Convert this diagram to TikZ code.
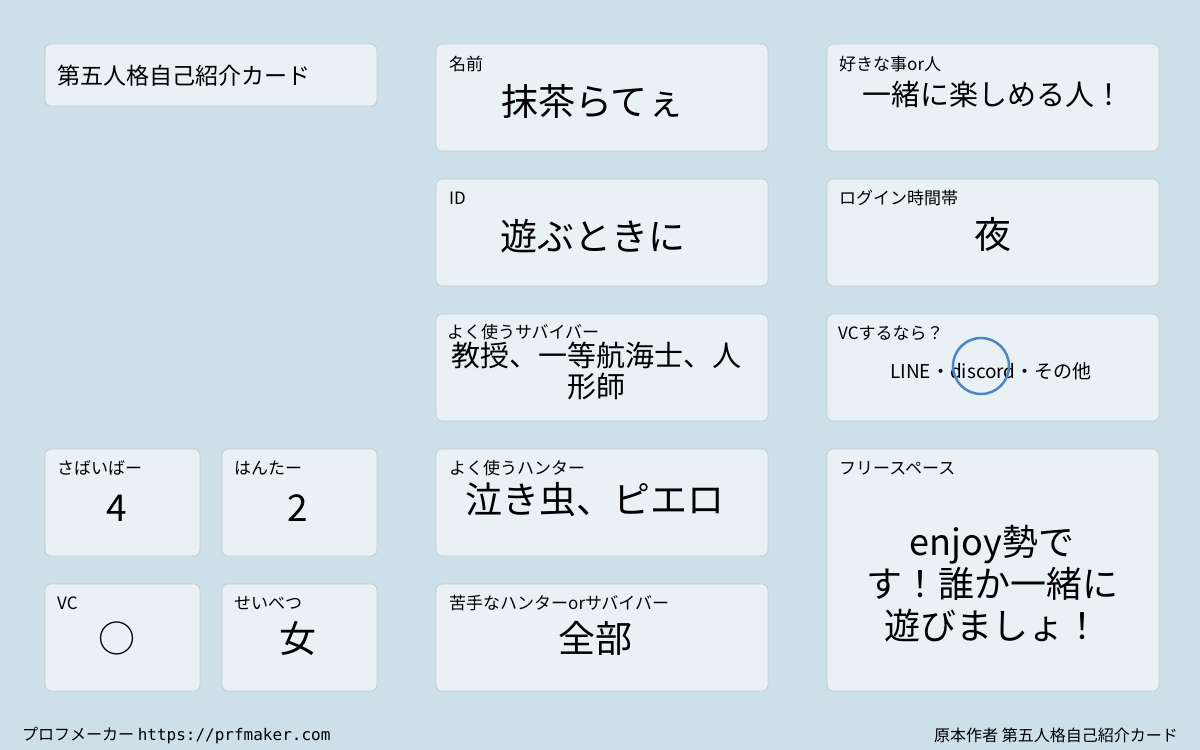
\documentclass[tikz,border=0pt]{standalone}
\usepackage{fontspec}
\setmainfont{Noto Sans CJK JP}
\newfontfamily\monof{DejaVu Sans Mono}
\definecolor{bgc}{HTML}{CDDFE9}
\definecolor{boxc}{HTML}{E9F1F5}
\definecolor{edgec}{HTML}{BFCBD2}
\definecolor{circc}{HTML}{4A86C8}
\tikzset{
 card/.style={draw=edgec,fill=boxc,rounded corners=6pt,line width=0.8pt},
 lbl/.style={anchor=west,font=\fontsize{17}{17}\selectfont,inner sep=0pt},
 big/.style={font=\fontsize{37}{40}\selectfont,inner sep=0pt,align=center},
 mid/.style={font=\fontsize{29}{31}\selectfont,inner sep=0pt,align=center},
 foot/.style={font=\fontsize{16}{16}\selectfont,inner sep=0pt}
}
\begin{document}
\begin{tikzpicture}[x=1pt,y=-1pt]
\fill[bgc] (0,0) rectangle (1200,750);
\useasboundingbox (0,0) rectangle (1200,750);
% cards
\draw[card] (45,44) rectangle (377,106);
\draw[card] (436,44) rectangle (768,151);
\draw[card] (827,44) rectangle (1159,151);
\draw[card] (436,179) rectangle (768,286);
\draw[card] (827,179) rectangle (1159,286);
\draw[card] (436,314) rectangle (768,421);
\draw[card] (827,314) rectangle (1159,421);
\draw[card] (45,449) rectangle (200,556);
\draw[card] (222,449) rectangle (377,556);
\draw[card] (436,449) rectangle (768,556);
\draw[card] (827,449) rectangle (1159,691);
\draw[card] (45,584) rectangle (200,691);
\draw[card] (222,584) rectangle (377,691);
\draw[card] (436,584) rectangle (768,691);
% title
\node[anchor=west,inner sep=0pt,font=\fontsize{23}{23}\selectfont] (title) at (57,76) {第五人格自己紹介カード};
% labels
\node[lbl] (l1) at (449,64) {名前};
\node[lbl] (l2) at (839,64) {好きな事or人};
\node[lbl] (l3) at (449,198) {ID};
\node[lbl] (l4) at (839,198) {ログイン時間帯};
\node[lbl] (l5) at (447,332) {よく使うサバイバー};
\node[lbl] (l6) at (838,333) {VCするなら？};
\node[lbl] (l7) at (57,468) {さばいばー};
\node[lbl] (l8) at (234,468) {はんたー};
\node[lbl] (l9) at (449,468) {よく使うハンター};
\node[lbl] (l10) at (839,468) {フリースペース};
\node[lbl] (l11) at (57,603) {VC};
\node[lbl] (l12) at (234,603) {せいべつ};
\node[lbl] (l13) at (449,603) {苦手なハンターorサバイバー};
% values
\node[big] (v1) at (593,101) {抹茶らてぇ};
\node[mid] (v2) at (993,94) {一緒に楽しめる人！};
\node[big] (v3) at (593,236) {遊ぶときに};
\node[big] (v4) at (993,234) {夜};
\node[mid] (v5) at (596,371) {教授、一等航海士、人\\形師};
\node[font=\fontsize{19}{19}\selectfont,inner sep=0pt] (v6) at (991,371) {LINE・discord・その他};
\node[big] (v7) at (117,508) {4};
\node[big] (v8) at (298,508) {2};
\node[big] (v9) at (595,500) {泣き虫、ピエロ};
\node[font=\fontsize{36}{42}\selectfont,inner sep=0pt,align=center] (v10) at (992,584) {enjoy勢で\\す！誰か一緒に\\遊びましょ！};
\node[big] (v11) at (117,638) {○};
\node[big] (v12) at (298,639) {女};
\node[big] (v13) at (595,638) {全部};
\draw[circc,line width=2.5pt] (981,366) circle (28);
% footer
\node[foot,anchor=west] (f1) at (22,736) {プロフメーカー {\monof https://prfmaker.com}};
\node[foot,anchor=east] (f2) at (1178,735) {原本作者 第五人格自己紹介カード};
\end{tikzpicture}
\end{document}
